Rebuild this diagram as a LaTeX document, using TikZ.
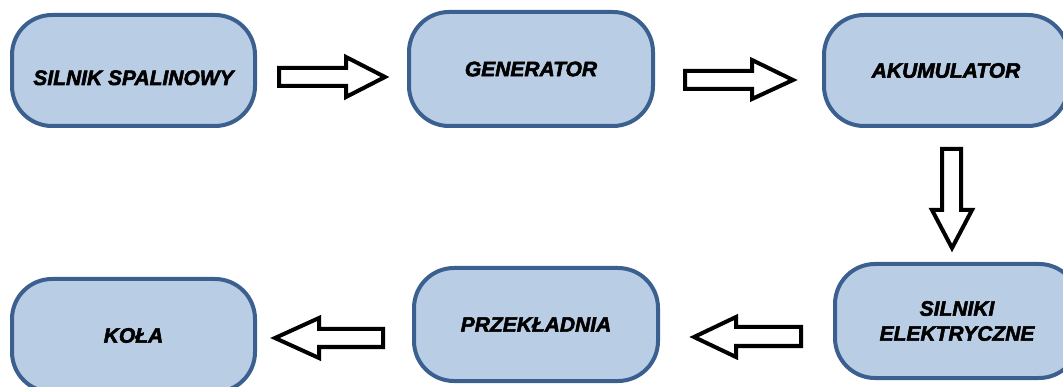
\documentclass[tikz,border=0pt]{standalone}
\usepackage{fontspec}
\setmainfont{Liberation Sans}[BoldItalicFeatures={FakeBold=2.5}]
\definecolor{boxfill}{HTML}{B9CDE5}
\definecolor{boxline}{HTML}{3B5F8E}
\tikzset{
  box/.style={draw=boxline, fill=boxfill, line width=4pt, rounded corners=40pt,
    minimum width=244pt, inner sep=0pt, align=center,
    font=\fontsize{21}{25}\selectfont\bfseries\itshape},
  blockarrow/.style={draw=black, fill=white, line width=4pt, line join=miter}
}
\begin{document}
\begin{tikzpicture}[x=1pt,y=-1pt]
\useasboundingbox (0,0) rectangle (1063,387);
\node[box, minimum width=243pt, minimum height=111pt] (b1) at (133.5,70.5) {\raisebox{-7pt}[15pt][0pt]{SILNIK SPALINOWY}};
\node[box, minimum height=114pt] (b2) at (531,69) {GENERATOR};
\node[box, minimum height=111pt] (b3) at (946,70.5) {AKUMULATOR};
\node[box, minimum height=114pt] (b4) at (957,321) {SILNIKI\\ELEKTRYCZNE};
\node[box, minimum height=113pt] (b5) at (536,324.5) {PRZEKŁADNIA};
\node[box, minimum width=243pt, minimum height=113pt] (b6) at (133.5,335.5) {KOŁA};
% block arrows
\draw[blockarrow] (279,68) -- (346,68) -- (346,57) -- (385,77) -- (346,97) -- (346,86) -- (279,86) -- cycle;
\draw[blockarrow] (685,71) -- (752,71) -- (752,60) -- (793,80) -- (752,99) -- (752,89) -- (685,89) -- cycle;
\draw[blockarrow] (942,149) -- (961,149) -- (961,210) -- (972,210) -- (952,248) -- (932,210) -- (942,210) -- cycle;
\draw[blockarrow] (801,327) -- (736,327) -- (736,317) -- (694,337) -- (736,357) -- (736,346) -- (801,346) -- cycle;
\draw[blockarrow] (383,329) -- (319,329) -- (319,318) -- (275,338) -- (319,358) -- (319,347) -- (383,347) -- cycle;
\end{tikzpicture}
\end{document}
